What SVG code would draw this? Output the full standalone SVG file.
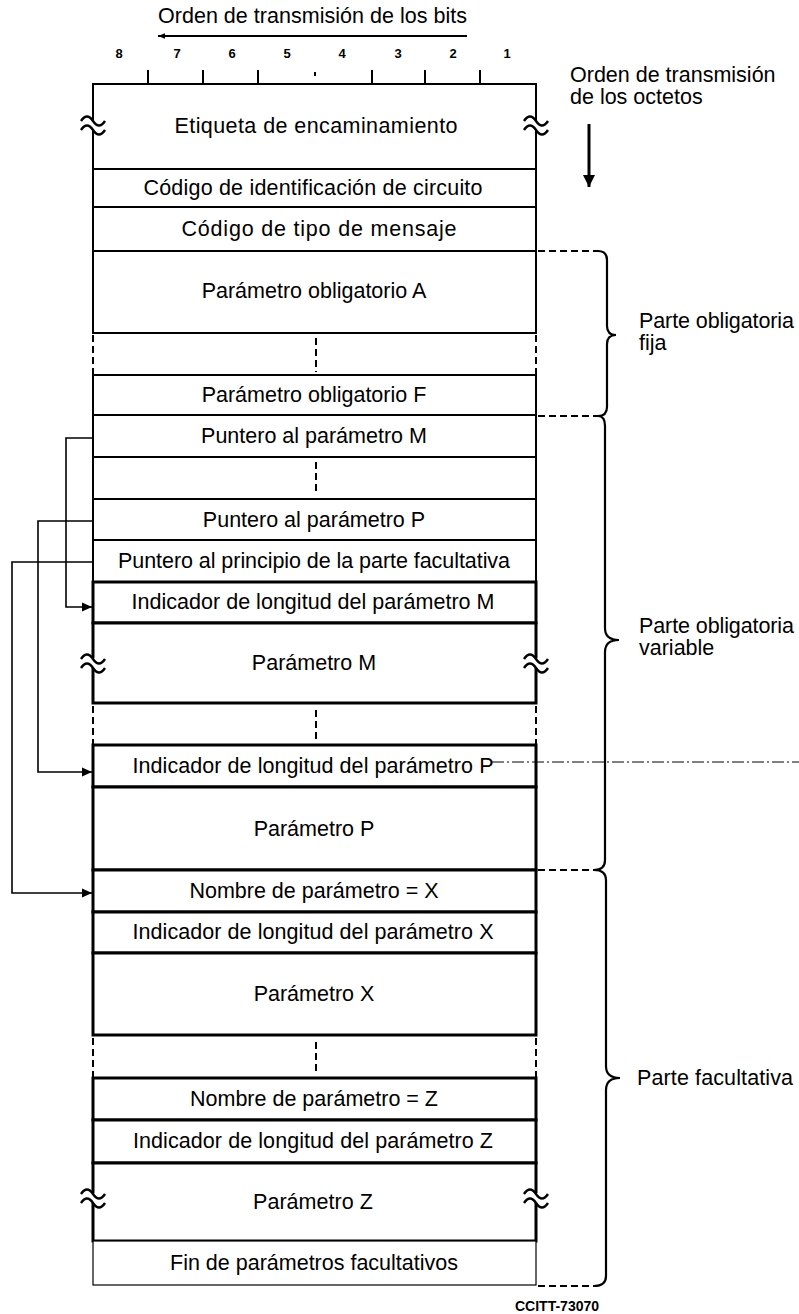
<svg xmlns="http://www.w3.org/2000/svg" width="799" height="1314" viewBox="0 0 799 1314">
<style>
text{font-family:"Liberation Sans",Arial,sans-serif;fill:#000}
.t{font-size:21.5px;text-anchor:middle}
.lbl{font-size:21.5px}
.num{font-size:13px;font-weight:bold;text-anchor:middle}
.row{fill:#fff;stroke:#000;stroke-width:2}
.thk{fill:#fff;stroke:#000;stroke-width:3}
.thin{fill:#fff;stroke:#000;stroke-width:1.2}
.dsh{stroke:#000;stroke-width:2;stroke-dasharray:7 4;fill:none}
.ln{stroke:#000;stroke-width:1.6;fill:none}
.br{stroke:#000;stroke-width:2.2;fill:none}
.tk{stroke:#000;stroke-width:2}
</style>
<defs>
<marker id="ah" viewBox="0 0 10 10" refX="10" refY="5" markerWidth="10" markerHeight="10" markerUnits="userSpaceOnUse" orient="auto"><path d="M0,0.5 L10,5 L0,9.5 z" fill="#000"/></marker>
<marker id="ahs" viewBox="0 0 10 10" refX="10" refY="5" markerWidth="10" markerHeight="7" markerUnits="userSpaceOnUse" orient="auto"><path d="M0,1 L10,5 L0,9 z" fill="#000"/></marker>
<marker id="ahb" viewBox="0 0 10 10" refX="10" refY="5" markerWidth="16" markerHeight="12" markerUnits="userSpaceOnUse" orient="auto"><path d="M0,0 L10,5 L0,10 z" fill="#000"/></marker>
<g id="brk"><rect x="-4" y="-5" width="8" height="10" fill="#fff"/><path d="M-12,-4 C-8,-10 -4,-10 0,-4 C4,2 8,2 12,-4" fill="none" stroke="#000" stroke-width="2.4"/><path d="M-12,5 C-8,-1 -4,-1 0,5 C4,11 8,11 12,5" fill="none" stroke="#000" stroke-width="2.4"/></g>
</defs>
<rect width="799" height="1314" fill="#fff"/>

<g id="header">
<text class="lbl" x="158" y="23" textLength="309">Orden de transmisión de los bits</text>
<line x1="467" y1="36" x2="158" y2="36" stroke="#000" stroke-width="2" marker-end="url(#ahs)"/>
<text class="num" x="119" y="58">8</text>
<text class="num" x="177" y="58">7</text>
<text class="num" x="232" y="58">6</text>
<text class="num" x="287" y="58">5</text>
<text class="num" x="342" y="58">4</text>
<text class="num" x="398" y="58">3</text>
<text class="num" x="453" y="58">2</text>
<text class="num" x="507" y="58">1</text>
<line class="tk" x1="148" y1="70" x2="148" y2="84"/>
<line class="tk" x1="203" y1="70" x2="203" y2="84"/>
<line class="tk" x1="258" y1="70" x2="258" y2="84"/>
<line class="tk" x1="315" y1="72" x2="315" y2="76"/>
<line class="tk" x1="372" y1="70" x2="372" y2="84"/>
<line class="tk" x1="425" y1="70" x2="425" y2="84"/>
<line class="tk" x1="480" y1="70" x2="480" y2="84"/>
</g>

<g id="octet-order">
<text class="lbl" x="570" y="82">Orden de transmisión</text>
<text class="lbl" x="570" y="104">de los octetos</text>
<line x1="589" y1="124" x2="589" y2="187" stroke="#000" stroke-width="3" marker-end="url(#ahb)"/>
</g>

<g id="n-etiqueta"><rect class="row" x="93" y="84" width="443" height="85"/><text class="t" x="316" y="133" textLength="283">Etiqueta de encaminamiento</text></g>
<g id="n-cic"><rect class="row" x="93" y="169" width="443" height="38"/><text class="t" x="313" y="195" textLength="339">Código de identificación de circuito</text></g>
<g id="n-tipo"><rect class="row" x="93" y="207" width="443" height="44"/><text class="t" x="319" y="236" textLength="275">Código de tipo de mensaje</text></g>
<g id="n-paramA"><rect class="row" x="93" y="251" width="443" height="82"/><text class="t" x="314" y="298">Parámetro obligatorio A</text></g>
<g id="gap1"><line class="dsh" x1="93" y1="335" x2="93" y2="375"/><line class="dsh" x1="536" y1="335" x2="536" y2="375"/><line class="dsh" x1="316" y1="338" x2="316" y2="372"/></g>
<g id="n-paramF"><rect class="row" x="93" y="375" width="443" height="40"/><text class="t" x="314" y="402">Parámetro obligatorio F</text></g>
<g id="n-punteroM"><rect class="row" x="93" y="415" width="443" height="42"/><text class="t" x="314" y="443">Puntero al parámetro M</text></g>
<g id="gap2"><rect class="row" x="93" y="457" width="443" height="42"/><line class="dsh" x1="316" y1="462" x2="316" y2="495"/></g>
<g id="n-punteroP"><rect class="row" x="93" y="499" width="443" height="41"/><text class="t" x="314" y="527">Puntero al parámetro P</text></g>
<g id="n-punteroF"><rect class="row" x="93" y="540" width="443" height="42"/><text class="t" x="314" y="568" textLength="392">Puntero al principio de la parte facultativa</text></g>
<g id="n-indM"><rect class="thk" x="93" y="582" width="443" height="41"/><text class="t" x="313" y="609" textLength="363">Indicador de longitud del parámetro M</text></g>
<g id="n-paramM"><rect class="thk" x="93" y="623" width="443" height="80"/><text class="t" x="314" y="670">Parámetro M</text></g>
<g id="gap3"><line class="dsh" x1="93" y1="706" x2="93" y2="745"/><line class="dsh" x1="536" y1="706" x2="536" y2="745"/><line class="dsh" x1="316" y1="710" x2="316" y2="740"/></g>
<g id="n-indP"><rect class="thk" x="93" y="745" width="443" height="42"/><text class="t" x="313" y="773" textLength="361">Indicador de longitud del parámetro P</text></g>
<g id="n-paramP"><rect class="thk" x="93" y="787" width="443" height="83"/><text class="t" x="314" y="836">Parámetro P</text></g>
<g id="n-nombreX"><rect class="thk" x="93" y="870" width="443" height="42"/><text class="t" x="314" y="898">Nombre de parámetro = X</text></g>
<g id="n-indX"><rect class="thk" x="93" y="912" width="443" height="41"/><text class="t" x="313" y="939" textLength="361">Indicador de longitud del parámetro X</text></g>
<g id="n-paramX"><rect class="thk" x="93" y="953" width="443" height="82"/><text class="t" x="314" y="1001">Parámetro X</text></g>
<g id="gap4"><line class="dsh" x1="93" y1="1038" x2="93" y2="1078"/><line class="dsh" x1="536" y1="1038" x2="536" y2="1078"/><line class="dsh" x1="316" y1="1042" x2="316" y2="1072"/></g>
<g id="n-nombreZ"><rect class="thk" x="93" y="1078" width="443" height="42"/><text class="t" x="314" y="1106">Nombre de parámetro = Z</text></g>
<g id="n-indZ"><rect class="thk" x="93" y="1120" width="443" height="43"/><text class="t" x="313" y="1148" textLength="360">Indicador de longitud del parámetro Z</text></g>
<g id="n-paramZ"><rect class="thk" x="93" y="1163" width="443" height="78"/><text class="t" x="313" y="1209" textLength="120">Parámetro Z</text></g>
<g id="n-fin"><rect class="thin" x="93" y="1241" width="443" height="44"/><text class="t" x="314" y="1270">Fin de parámetros facultativos</text></g>

<g id="breaks">
<use href="#brk" x="93" y="125"/><use href="#brk" x="536" y="125"/>
<use href="#brk" x="93" y="663"/><use href="#brk" x="536" y="663"/>
<use href="#brk" x="93" y="1198"/><use href="#brk" x="536" y="1198"/>
</g>

<g id="connectors">
<polyline class="ln" points="93,438 66,438 66,607 92,607" marker-end="url(#ah)"/>
<polyline class="ln" points="93,521 38,521 38,772 92,772" marker-end="url(#ah)"/>
<polyline class="ln" points="93,562 12,562 12,893 92,893" marker-end="url(#ah)"/>
<line x1="492" y1="762" x2="799" y2="762" stroke="#000" stroke-width="1" stroke-dasharray="12 3 2 3"/>
</g>

<g id="braces">
<line class="dsh" x1="538" y1="251" x2="598" y2="251"/>
<line class="dsh" x1="538" y1="416" x2="598" y2="416"/>
<line class="dsh" x1="538" y1="870" x2="594" y2="870"/>
<line class="dsh" x1="538" y1="1286" x2="594" y2="1286"/>
<path class="br" d="M598,251 Q607,251 607,260 L607,326 Q607,335 616,335 Q607,335 607,344 L607,407 Q607,416 598,416"/>
<path class="br" d="M598,416 Q605,416 605,426 L605,628 Q605,640 619,640 Q605,640 605,652 L605,860 Q605,870 594,870"/>
<path class="br" d="M594,870 Q606,870 606,880 L606,1066 Q606,1078 620,1078 Q606,1078 606,1090 L606,1276 Q606,1286 594,1286"/>
<text class="lbl" x="639" y="328" textLength="155">Parte obligatoria</text>
<text class="lbl" x="639" y="350">fija</text>
<text class="lbl" x="639" y="633" textLength="155">Parte obligatoria</text>
<text class="lbl" x="639" y="655">variable</text>
<text class="lbl" x="637" y="1085" textLength="156">Parte facultativa</text>
</g>

<text x="515" y="1311" font-size="14" font-weight="bold">CCITT-73070</text>
</svg>
